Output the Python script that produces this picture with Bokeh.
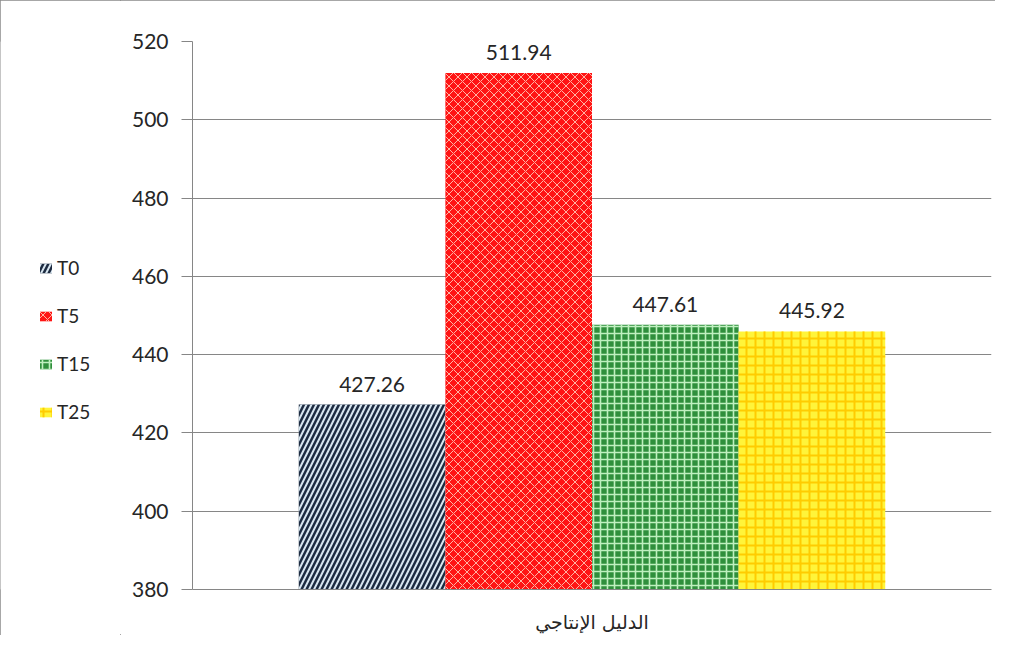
from bokeh.plotting import figure
from bokeh.models import Range1d, FactorRange, Legend, LegendItem, ColumnDataSource
from bokeh.layouts import row
from bokeh.transform import dodge
from bokeh.core.properties import value
from bokeh.embed import file_html
from bokeh.resources import INLINE

group = "الدليل الإنتاجي"
series = ["T0", "T5", "T15", "T25"]
values = [427.26, 511.94, 447.61, 445.92]
y_ticks = [380, 400, 420, 440, 460, 480, 500, 520]

styles = {
    "T0": dict(fill_color="#1c2a40", hatch_pattern="/", hatch_color="#d8e6f0", hatch_weight=2.0, hatch_scale=10),
    "T5": dict(fill_color="#ff1414", hatch_pattern="x", hatch_color="#ffb4a4", hatch_weight=1.0, hatch_scale=9),
    "T15": dict(fill_color="#2f8f3c", hatch_pattern="+", hatch_color="#bff0bf", hatch_weight=1.6, hatch_scale=7),
    "T25": dict(fill_color="#fff43a", hatch_pattern="+", hatch_color="#ffcc00", hatch_weight=2.0, hatch_scale=9),
}

H = 635
LW = 120

# main chart
p = figure(width=995 - LW, height=H, x_range=FactorRange(group), y_range=Range1d(380, 520),
           output_backend="svg", toolbar_location=None,
           min_border_left=192 - LW, min_border_right=4, min_border_top=41, min_border_bottom=41)
p.outline_line_color = None

w = 0.1835
offsets = [-1.5 * w, -0.5 * w, 0.5 * w, 1.5 * w]
for s, v, off in zip(series, values, offsets):
    src = ColumnDataSource(dict(cat=[group], val=[v], lbl=[f"{v:.2f}"]))
    p.vbar(x=dodge("cat", off, range=p.x_range), top="val", bottom=380, width=w,
           source=src, line_color=None, **styles[s])
    p.text(x=dodge("cat", off, range=p.x_range), y="val", text="lbl", source=src,
           text_align="center", text_baseline="bottom", y_offset=-13,
           text_font=value("Lato"), text_font_size="21px", text_color="#262626")

p.yaxis.ticker = y_ticks
p.yaxis.axis_line_color = "#868686"
p.yaxis.major_tick_line_color = "#868686"
p.yaxis.major_tick_out = 11
p.yaxis.major_tick_in = 0
p.yaxis.minor_tick_line_color = None
p.yaxis.major_label_text_font = "Lato"
p.yaxis.major_label_text_font_size = "21px"
p.yaxis.major_label_text_color = "#262626"
p.yaxis.major_label_standoff = 13

p.xaxis.axis_line_color = "#868686"
p.xaxis.major_tick_line_color = None
p.xaxis.major_label_text_font = "DejaVu Sans"
p.xaxis.major_label_text_font_size = "19px"
p.xaxis.major_label_text_color = "#262626"
p.xaxis.major_label_standoff = 15

p.xgrid.grid_line_color = None
p.ygrid.grid_line_color = "#868686"
p.ygrid.grid_line_width = 1

# legend panel (swatch renderers sit outside the visible range)
lg = figure(width=LW, height=H, x_range=Range1d(0, 1), y_range=Range1d(0, 1),
            output_backend="svg", toolbar_location=None,
            x_axis_type=None, y_axis_type=None, min_border=0)
lg.outline_line_color = None
lg.xgrid.grid_line_color = None
lg.ygrid.grid_line_color = None
items = []
for s in series:
    src = ColumnDataSource(dict(x=[5.0], top=[5.0]))
    r = lg.vbar(x="x", top="top", bottom=4.0, width=0.1, source=src, line_color=None, **styles[s])
    items.append(LegendItem(label=s, renderers=[r]))

legend = Legend(items=items, location=(38, 166))
legend.glyph_width = 15
legend.glyph_height = 12
legend.label_text_font = "Lato"
legend.label_text_font_size = "19px"
legend.label_text_color = "#262626"
legend.label_height = 22
legend.spacing = 25
legend.label_standoff = 4
legend.border_line_color = None
legend.background_fill_alpha = 0
legend.padding = 0
legend.margin = 0
lg.add_layout(legend)

layout = row(lg, p, spacing=0)
layout.styles = {"outline": "1px solid #8a8a8a", "outline-offset": "-1px"}

open("out.html", "w").write(file_html(layout, INLINE))
